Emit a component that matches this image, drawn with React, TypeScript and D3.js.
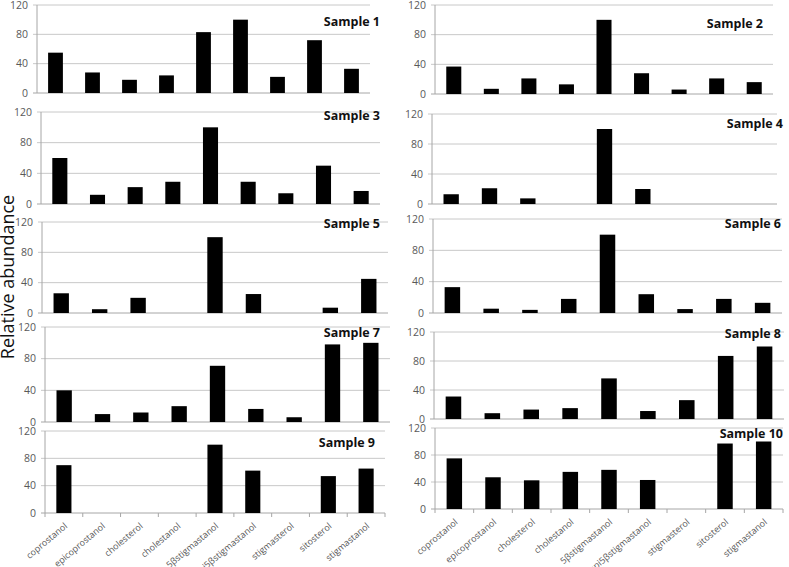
import React from "react";
import * as d3 from "d3";

const categories = [
  "coprostanol",
  "epicoprostanol",
  "cholesterol",
  "cholestanol",
  "5βstigmastanol",
  "epi5βstigmastanol",
  "stigmasterol",
  "sitosterol",
  "stigmastanol",
];

const sampleNames = [
  "Sample 1", "Sample 2", "Sample 3", "Sample 4", "Sample 5",
  "Sample 6", "Sample 7", "Sample 8", "Sample 9", "Sample 10",
];

const sample1 = [55, 28, 18, 24, 83, 100, 22, 72, 33];
const sample2 = [37, 7, 21, 13, 100, 28, 6, 21, 16];
const sample3 = [60, 12, 22, 29, 100, 29, 14, 50, 17];
const sample4 = [13, 21, 7.5, 0, 100, 20, 0, 0, 0];
const sample5 = [26, 5, 20, 0, 100, 25, 0, 7, 45];
const sample6 = [33, 5.5, 4, 18, 100, 24, 5, 18, 13];
const sample7 = [40, 10, 12, 20, 71, 16.5, 6, 98, 100];
const sample8 = [31, 8, 13, 15, 56, 11, 26, 87, 100];
const sample9 = [70, 0, 0, 0, 100, 62, 0, 54, 65];
const sample10 = [75, 47, 42.5, 55, 58, 43, 0, 97, 100];

const samples = [sample1, sample2, sample3, sample4, sample5, sample6, sample7, sample8, sample9, sample10];

const yTicks = [0, 40, 80, 120];
const yLabel = "Relative abundance";

// layout: [x0, x1, yTop, yBottom, titleX, titleY, showXLabels]
const layout: [number, number, number, number, number, number, boolean][] = [
  [37, 370, 5, 93, 380, 26, false],
  [435, 773, 5, 94, 763, 28, false],
  [41, 380, 112, 204, 380, 120, false],
  [432, 777, 114, 204, 783, 128, false],
  [42, 388, 222, 313, 380, 228, false],
  [433, 782, 219, 313, 781, 228, false],
  [45, 390, 327, 422, 380, 337, false],
  [434, 784, 332, 419, 781, 338, false],
  [45, 385, 431, 513, 375, 447, true],
  [435, 783, 428, 509, 783, 438, true],
];

const FONT = "'Open Sans', 'DejaVu Sans', sans-serif";
const GRID = "#c8c8c8";
const TICKTXT = "#595959";

function Panel({ idx }: { idx: number }) {
  const [x0, x1, yT, yB, tx, ty, showX] = layout[idx];
  const values = samples[idx];
  const x = d3.scaleBand<string>().domain(categories).range([x0, x1]).paddingInner(0).paddingOuter(0);
  const y = d3.scaleLinear().domain([0, 120]).range([yB, yT]);
  const bw = x.bandwidth() / 2.5;
  return (
    <g>
      {yTicks.map((t) => (
        <g key={t}>
          <line x1={x0 - 4} x2={x1} y1={y(t)} y2={y(t)} stroke={t === 0 ? "#a6a6a6" : GRID} strokeWidth={1} />
          <text x={x0 - 9} y={y(t)} dy="0.35em" textAnchor="end" fontSize={10.5} fill={TICKTXT} fontFamily={FONT}>
            {t}
          </text>
        </g>
      ))}
      <line x1={x0} x2={x0} y1={yT} y2={yB + (showX ? 4 : 0)} stroke="#a6a6a6" strokeWidth={1} />
      {values.map((v, i) => {
        const c = categories[i];
        const cx = (x(c) as number) + x.bandwidth() / 2;
        return v > 0 ? (
          <rect key={c} x={cx - bw / 2} y={y(v)} width={bw} height={y(0) - y(v)} fill="#000" />
        ) : null;
      })}
      {showX &&
        categories.map((c, i) => {
          const bx = (x(c) as number) + x.bandwidth();
          const cx = (x(c) as number) + x.bandwidth() / 2;
          return (
            <g key={c}>
              <line x1={bx} x2={bx} y1={yB} y2={yB + 4} stroke="#a6a6a6" />
              <text
                transform={`translate(${cx + 4},${yB + 14}) rotate(-40)`}
                textAnchor="end"
                fontSize={9}
                fill={TICKTXT}
                fontFamily={FONT}
              >
                {c}
              </text>
            </g>
          );
        })}
      <text x={tx} y={ty} textAnchor="end" fontSize={12.5} fontWeight="bold" fill="#111" fontFamily={FONT}>
        {sampleNames[idx]}
      </text>
    </g>
  );
}

export default function App() {
  return (
    <svg
      width={789}
      height={567}
      style={{ position: "absolute", left: 0, top: 0, background: "#fff" }}
    >
      <rect width={789} height={567} fill="#fff" />
      {layout.map((_, i) => (
        <Panel key={i} idx={i} />
      ))}
      <text
        transform="translate(14,277) rotate(-90)"
        textAnchor="middle"
        fontSize={18}
        fill="#111"
        fontFamily={FONT}
      >
        {yLabel}
      </text>
    </svg>
  );
}
